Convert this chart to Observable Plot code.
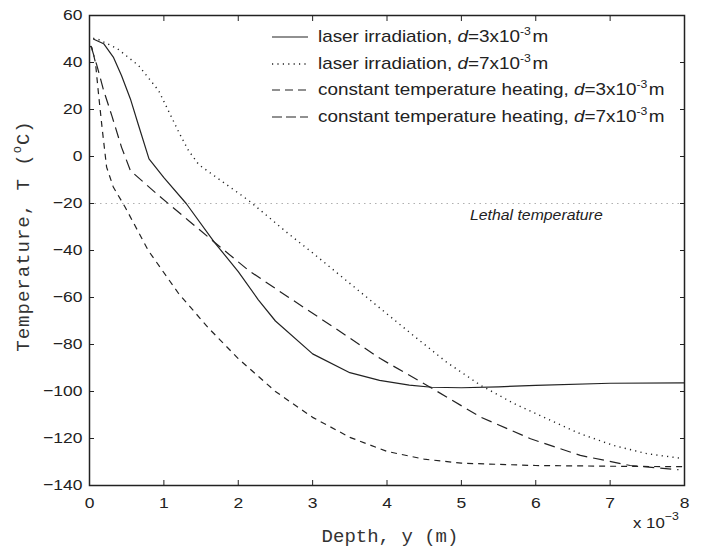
<!DOCTYPE html>
<html><head><meta charset="utf-8">
<script src="https://cdn.jsdelivr.net/npm/d3@7"></script>
<script src="https://cdn.jsdelivr.net/npm/@observablehq/plot@0.6"></script>
<style>
body{margin:0;background:#fff;}
#wrap{position:relative;width:704px;height:548px;font-family:"Liberation Sans",Arial,sans-serif;color:#222;overflow:hidden;}
#legend{position:absolute;left:270px;top:24px;font-size:17px;line-height:26.5px;}
#legend .row{position:relative;height:26.5px;white-space:nowrap;}
#legend svg{position:absolute;left:0;top:0;}
#legend span.t{position:absolute;left:48px;top:0;transform:scaleX(1.11);transform-origin:left center;}
sup{font-size:11px;vertical-align:0;position:relative;top:-7px;}
#ylab{position:absolute;left:25px;top:236px;transform:translate(-50%,-50%) rotate(-90deg);font-family:"Liberation Mono",monospace;font-size:19px;letter-spacing:1px;line-height:20px;white-space:nowrap;color:#333;}
#xlab{position:absolute;left:390px;top:528px;transform:translateX(-50%);font-family:"Liberation Mono",monospace;font-size:19px;line-height:19px;white-space:nowrap;color:#333;}
#mult{position:absolute;left:633px;top:514px;font-size:15px;line-height:17px;white-space:nowrap;transform:scaleX(1.12);transform-origin:left center;}
</style></head>
<body><div id="wrap"></div>
<script>
// ---- data (depth in units of 1e-3 m, temperature in °C) ----
const xTicks = [0, 1, 2, 3, 4, 5, 6, 7, 8];
const yTicks = [-140, -120, -100, -80, -60, -40, -20, 0, 20, 40, 60];

const laser3Depth = [0.05, 0.19, 0.32, 0.43, 0.55, 0.66, 0.8, 1.0, 1.3, 1.68, 2.0, 2.27, 2.5, 3.0, 3.5, 3.9, 4.3, 4.6, 5.0, 5.5, 6.0, 7.0, 8.0];
const laser3Temp  = [50, 48, 42.3, 34.5, 24.5, 13.2, -1, -9, -20, -36.5, -49, -61, -70, -84, -92, -95.3, -97.3, -98.2, -98.4, -98, -97.4, -96.5, -96.3];

const laser7Depth = [0.05, 0.12, 0.37, 0.66, 0.93, 1.2, 1.33, 1.47, 1.8, 2.14, 2.68, 3.0, 3.5, 4.27, 4.8, 5.26, 5.7, 6.15, 6.6, 7.05, 7.5, 7.95];
const laser7Temp  = [50.3, 49.8, 46, 38.7, 28, 10.4, 2.6, -3.5, -11, -18.7, -33, -41, -54, -74, -87.5, -97.4, -105, -111.6, -118, -123, -126.5, -128.4];

const const3Depth = [0, 0.03, 0.08, 0.12, 0.17, 0.23, 0.32, 0.48, 0.79, 1.2, 1.6, 2.0, 2.5, 3.0, 3.5, 4.0, 4.5, 5.0, 6.0, 7.0, 8.0];
const const3Temp  = [47, 46.5, 40, 27, 12, -4.5, -13, -21.6, -40, -58.4, -73, -86, -100, -111, -119.5, -125.5, -128.8, -130.5, -131.5, -131.8, -132];

const const7Depth = [0.02, 0.1, 0.19, 0.3, 0.43, 0.55, 0.93, 1.33, 1.68, 2.14, 2.68, 3.3, 3.91, 4.58, 5.26, 5.93, 6.6, 7.27, 7.92];
const const7Temp  = [47, 38.7, 28.1, 17.4, 4, -6, -16.6, -27.2, -36.5, -48.5, -60, -73, -86, -98.2, -110.9, -120.1, -127.2, -131.5, -133.3];

const lethalTemp = -20;
const lethalLabel = "Lethal temperature";
const lethalLabelDepth = 6.9;

const seriesNames = [
  'laser irradiation, <i>d</i>=3x10<sup>-3</sup>&#8202;m',
  'laser irradiation, <i>d</i>=7x10<sup>-3</sup>&#8202;m',
  'constant temperature heating, <i>d</i>=3x10<sup>-3</sup>&#8202;m',
  'constant temperature heating, <i>d</i>=7x10<sup>-3</sup>&#8202;m'
];
const seriesDash = [null, "1.2,4.2", "6,5", "11,6"];
const legendDash = [null, "1.2,4.2", "8,5", "10,4"];
const seriesDepth = [laser3Depth, laser7Depth, const3Depth, const7Depth];
const seriesTemp = [laser3Temp, laser7Temp, const3Temp, const7Temp];

// ---- build ----
const lines = seriesDepth.map((xs, s) =>
  Plot.line(xs.map((x, i) => ({x, T: seriesTemp[s][i]})), {
    x: "x", y: "T", stroke: "#222", strokeWidth: s === 1 ? 1.4 : 1.2,
    strokeDasharray: seriesDash[s] || undefined, strokeLinecap: "butt"
  })
);

const chart = Plot.plot({
  width: 704, height: 548,
  marginLeft: 89, marginRight: 20, marginTop: 15, marginBottom: 63,
  x: {domain: [0, 8]},
  y: {domain: [-140, 60]},
  style: {fontFamily: "'Liberation Sans', Arial, sans-serif", fontSize: "15.5px", color: "#222", background: "white"},
  marks: [
    Plot.ruleY([lethalTemp], {stroke: "#b0b0b0", strokeWidth: 1.2, strokeDasharray: "1.5,4"}),
    ...lines,
    Plot.text([lethalLabel], {x: () => lethalLabelDepth, y: () => lethalTemp, dy: 12, text: d => d, textAnchor: "end", fontStyle: "italic", fontSize: 14, fill: "#222"}),
    Plot.axisX(xTicks, {anchor: "bottom", tickSize: -5, tickPadding: 16, label: null, stroke: "#222", fill: "#222"}),
    Plot.axisX(xTicks, {anchor: "top", tickSize: -5, tickFormat: () => "", label: null, stroke: "#222"}),
    Plot.axisY(yTicks, {anchor: "left", tickSize: -5, tickPadding: 12, label: null, stroke: "#222", fill: "#222"}),
    Plot.axisY(yTicks, {anchor: "right", tickSize: -5, tickFormat: () => "", label: null, stroke: "#222"}),
    Plot.frame({stroke: "#222", strokeWidth: 1.5})
  ]
});

// widen the SVG texts slightly (reference glyphs are horizontally stretched)
chart.querySelectorAll("text").forEach(t => {
  const x = parseFloat(t.getAttribute("x")) || 0;
  const tr = t.getAttribute("transform") || "";
  t.setAttribute("transform", `${tr} translate(${x},0) scale(1.13,1) translate(${-x},0)`);
});

const wrap = document.getElementById("wrap");
wrap.appendChild(chart);

// legend (inside plot, top right)
const legend = document.createElement("div");
legend.id = "legend";
seriesNames.forEach((name, s) => {
  const row = document.createElement("div");
  row.className = "row";
  const dash = legendDash[s] ? `stroke-dasharray="${legendDash[s]}"` : "";
  row.innerHTML = `<svg width="40" height="26"><line x1="2" x2="38" y1="13" y2="13" stroke="#222" stroke-width="${s===1?1.4:1.2}" ${dash}/></svg><span class="t">${name}</span>`;
  legend.appendChild(row);
});
wrap.appendChild(legend);

const ylab = document.createElement("div");
ylab.id = "ylab";
ylab.innerHTML = 'Temperature, T&nbsp;(<sup style="font-size:12px;top:-8px">o</sup>C)';
wrap.appendChild(ylab);

const xlab = document.createElement("div");
xlab.id = "xlab";
xlab.textContent = "Depth, y (m)";
wrap.appendChild(xlab);

const mult = document.createElement("div");
mult.id = "mult";
mult.innerHTML = 'x 10<sup style="font-size:11px;top:-8px">&minus;3</sup>';
wrap.appendChild(mult);
</script>
</body></html>
